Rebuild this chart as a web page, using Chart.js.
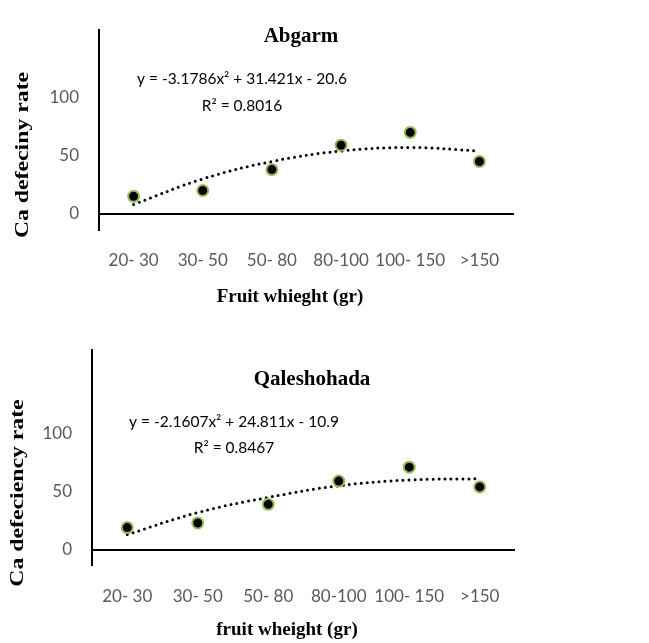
<!DOCTYPE html>
<html>
<head>
<meta charset="utf-8">
<script src="https://cdn.jsdelivr.net/npm/chart.js@4.4.1/dist/chart.umd.min.js"></script>
<style>
  body { margin: 0; background: #fff; }
  canvas { display: block; }
</style>
</head>
<body>
<canvas id="chartTop" width="649" height="320"></canvas>
<canvas id="chartBottom" width="649" height="323"></canvas>
<script>
// categories and values
const categories = ['20- 30', '30- 50', '50- 80', '80-100', '100- 150', '>150'];
const abgarmRate = [15, 20, 38, 59, 70, 45];
const abgarmTrend = [8, 30, 45, 54, 57, 54];
const qaleRate = [19, 23, 39, 59, 71, 54];
const qaleTrend = [13, 32, 45, 55, 60, 61];
const yTicks = [0, 50, 100];

const serif = '"Liberation Serif", "Times New Roman", serif';
const sans = 'Lato, "Open Sans", sans-serif';

// draws the title, trend equation and axis titles
const textPlugin = {
    id: 'texts',
    afterDraw(chart, args, o) {
        const ctx = chart.ctx;
        ctx.save();
        ctx.textAlign = 'center';
        ctx.textBaseline = 'middle';
        ctx.fillStyle = '#000';

        ctx.font = 'bold 21px ' + serif;
        ctx.fillText(o.title, o.titleX, o.titleY);

        ctx.font = '15.5px ' + sans;
        ctx.fillText(o.eq, o.eqX, o.eqY);
        ctx.fillText(o.r2, o.eqX, o.r2Y);

        ctx.font = 'bold 19px ' + serif;
        ctx.fillText(o.xTitle, o.xTitleX, o.xTitleY);

        ctx.translate(o.yTitleX, o.yTitleY);
        ctx.rotate(-Math.PI / 2);
        ctx.scale(1.25, 1);
        ctx.fillText(o.yTitle, 0, 0);
        ctx.restore();
    }
};

function makeChart(id, rate, trend, s) {
    const ctx = document.getElementById(id).getContext('2d');
    return new Chart(ctx, {
        type: 'line',
        data: {
            labels: categories,
            datasets: [{
                data: rate,
                showLine: false,
                pointRadius: 5.5,
                pointHoverRadius: 5.5,
                pointBackgroundColor: '#000',
                pointBorderColor: '#9bbb59',
                pointBorderWidth: 2
            }, {
                data: trend,
                borderColor: '#000',
                borderWidth: 3,
                borderDash: [0, 6],
                borderCapStyle: 'round',
                pointRadius: 0,
                tension: 0.4
            }]
        },
        options: {
            responsive: false,
            animation: false,
            layout: {
                padding: { left: 0, top: s.top, right: 649 - s.right, bottom: 0 }
            },
            plugins: {
                legend: { display: false },
                tooltip: { enabled: false },
                texts: s.texts
            },
            scales: {
                x: {
                    offset: true,
                    grid: { display: false },
                    border: { display: false },
                    ticks: {
                        color: '#595959',
                        font: { family: sans, size: 17 },
                        padding: s.xPad,
                        autoSkip: false,
                        maxRotation: 0
                    },
                    afterFit: (scale) => { scale.height = s.height - s.bottom; }
                },
                y: {
                    min: s.min,
                    max: s.max,
                    afterBuildTicks: (scale) => { scale.ticks = yTicks.map(v => ({ value: v })); },
                    afterFit: (scale) => { scale.width = s.left; },
                    grid: {
                        drawTicks: false,
                        color: (c) => c.tick && c.tick.value === 0 ? '#000' : 'rgba(0,0,0,0)',
                        lineWidth: 2
                    },
                    border: { display: true, color: '#000', width: 2 },
                    ticks: {
                        color: '#595959',
                        font: { family: sans, size: 17 },
                        padding: s.yPad
                    }
                }
            }
        },
        plugins: [textPlugin]
    });
}

makeChart('chartTop', abgarmRate, abgarmTrend, {
    height: 320, left: 99, right: 514, top: 10, bottom: 230,
    min: -14, max: 158, xPad: 12, yPad: 20,
    texts: {
        title: 'Abgarm', titleX: 301, titleY: 37,
        eq: 'y = -3.1786x² + 31.421x - 20.6', r2: 'R² = 0.8016',
        eqX: 242, eqY: 79, r2Y: 106,
        xTitle: 'Fruit whieght (gr)', xTitleX: 290, xTitleY: 297,
        yTitle: 'Ca defeciny rate', yTitleX: 23, yTitleY: 155
    }
});

makeChart('chartBottom', qaleRate, qaleTrend, {
    height: 323, left: 92, right: 515, top: 25, bottom: 245,
    min: -13.2, max: 171.7, xPad: 13, yPad: 20,
    texts: {
        title: 'Qaleshohada', titleX: 312, titleY: 60,
        eq: 'y = -2.1607x² + 24.811x - 10.9', r2: 'R² = 0.8467',
        eqX: 234, eqY: 102, r2Y: 128,
        xTitle: 'fruit wheight (gr)', xTitleX: 287, xTitleY: 310,
        yTitle: 'Ca defeciency rate', yTitleX: 18, yTitleY: 173
    }
});
</script>
</body>
</html>
